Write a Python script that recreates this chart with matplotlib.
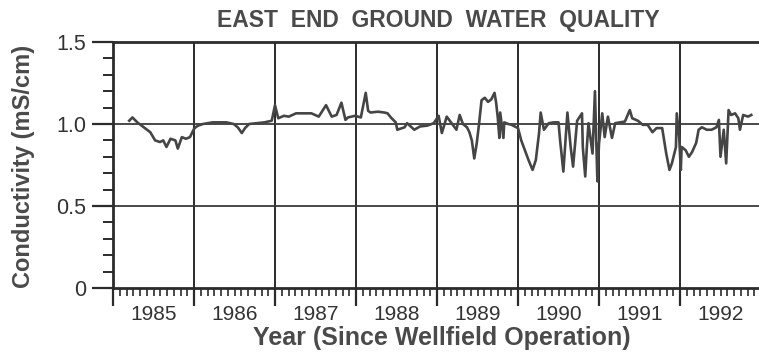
import matplotlib
matplotlib.use("Agg")
import matplotlib.pyplot as plt
from matplotlib.ticker import MultipleLocator, NullFormatter
from matplotlib.transforms import blended_transform_factory

# Sampling dates (decimal year) and measured conductivity (mS/cm)
years = [
    1985.20, 1985.24, 1985.30, 1985.38, 1985.46, 1985.52, 1985.58, 1985.62,
    1985.66, 1985.71, 1985.77, 1985.80, 1985.85, 1985.90, 1985.95,
    1986.00, 1986.02, 1986.05, 1986.11, 1986.23, 1986.40,
    1986.49, 1986.54, 1986.59, 1986.63, 1986.68, 1986.87, 1986.96, 1987.00, 1987.04,
    1987.11, 1987.17, 1987.26, 1987.35, 1987.45, 1987.54, 1987.63, 1987.70,
    1987.76, 1987.82, 1987.87, 1987.90, 1987.99,
    1988.06, 1988.12, 1988.15, 1988.18, 1988.27, 1988.35, 1988.39, 1988.43,
    1988.49, 1988.51, 1988.60, 1988.63, 1988.72, 1988.79, 1988.88, 1988.96,
    1989.02, 1989.06, 1989.12, 1989.18,
    1989.24, 1989.28, 1989.32, 1989.37, 1989.40, 1989.43, 1989.46, 1989.49,
    1989.52, 1989.55, 1989.59, 1989.63, 1989.67, 1989.71, 1989.73, 1989.75,
    1989.77, 1989.78, 1989.82, 1989.83, 1989.88, 1989.92,
    1990.00, 1990.04, 1990.07, 1990.13, 1990.18, 1990.22, 1990.26, 1990.28,
    1990.32, 1990.38, 1990.44, 1990.50,
    1990.52, 1990.56, 1990.61, 1990.65, 1990.68, 1990.73, 1990.79, 1990.80,
    1990.83, 1990.85, 1990.87, 1990.92, 1990.95, 1990.98,
    1991.00, 1991.04, 1991.07, 1991.11, 1991.16, 1991.20, 1991.26, 1991.32,
    1991.38, 1991.41, 1991.48, 1991.54, 1991.60, 1991.66,
    1991.71, 1991.78, 1991.83, 1991.87, 1991.90, 1991.95, 1991.96, 1991.99,
    1992.01, 1992.02, 1992.07, 1992.11, 1992.15, 1992.20, 1992.23, 1992.27,
    1992.33, 1992.39, 1992.45, 1992.48, 1992.50, 1992.54, 1992.57, 1992.60,
    1992.63, 1992.68, 1992.72, 1992.74, 1992.78, 1992.84, 1992.88,
]
conductivity = [
    1.02, 1.04, 1.01, 0.98, 0.95, 0.90, 0.89, 0.90,
    0.86, 0.91, 0.90, 0.85, 0.92, 0.91, 0.92,
    0.97, 0.98, 0.99, 1.00, 1.01, 1.01,
    1.00, 0.98, 0.945, 0.975, 1.00, 1.01, 1.02, 1.115, 1.035,
    1.05, 1.045, 1.065, 1.065, 1.065, 1.045, 1.115, 1.045,
    1.055, 1.13, 1.025, 1.04, 1.05,
    1.04, 1.19, 1.08, 1.07, 1.075, 1.07, 1.065, 1.04,
    1.01, 0.965, 0.98, 1.005, 0.965, 0.985, 0.99, 1.005,
    1.05, 0.945, 1.045, 1.005,
    0.965, 1.055, 1.00, 0.98, 0.95, 0.90, 0.79, 0.88,
    1.005, 1.145, 1.16, 1.135, 1.15, 1.19, 1.13, 1.04,
    0.915, 1.07, 0.915, 1.01, 1.00, 0.995,
    0.975, 0.90, 0.86, 0.78, 0.72, 0.78, 0.945, 1.07,
    0.965, 1.005, 1.01, 1.01,
    0.90, 0.71, 1.07, 0.86, 0.74, 1.02, 1.065, 0.86,
    0.68, 0.86, 1.005, 0.82, 1.20, 0.65,
    0.88, 1.065, 0.92, 1.045, 0.915, 1.005, 1.01, 1.015,
    1.085, 1.035, 1.02, 0.995, 0.995, 0.95,
    0.975, 0.975, 0.82, 0.72, 0.76, 0.86, 1.065, 0.92,
    0.72, 0.86, 0.84, 0.80, 0.83, 0.885, 0.965, 0.98,
    0.965, 0.965, 0.98, 1.025, 0.80, 0.965, 0.76, 1.085,
    1.055, 1.065, 1.035, 0.965, 1.055, 1.045, 1.055,
]

year_labels = ["1985", "1986", "1987", "1988", "1989", "1990", "1991", "1992"]
y_ticks = [0, 0.5, 1.0, 1.5]
y_tick_labels = ["0", "0.5", "1.0", "1.5"]

plt.rcParams["font.family"] = ["Liberation Sans", "DejaVu Sans"]

W, H = 759, 354
fig = plt.figure(figsize=(W / 100, H / 100), dpi=100)
fig.patch.set_facecolor("white")

x0, x1 = 1985.0, 1993.0
ax_left, ax_top, ax_bottom = 113, 42, 288
px_per_year = 81
ax = fig.add_axes([ax_left / W, 1 - ax_bottom / H,
                   (x1 - x0) * px_per_year / W, (ax_bottom - ax_top) / H])

axis_color = "#2b2b2b"
text_color = "#4a4a4a"

# Year boundaries and the 0.5 / 1.0 reference levels
for yr in range(1986, 1993):
    ax.axvline(yr, color=axis_color, lw=1.4, zorder=1)
for lvl in (0.5, 1.0):
    ax.axhline(lvl, color="#3a3a3a", lw=1.3, zorder=1)

ax.plot(years, conductivity, color="#454545", lw=1.9, zorder=3,
        solid_joinstyle="round")

ax.set_xlim(x0, x1)
ax.set_ylim(0, 1.5)

for side in ("left", "top", "bottom"):
    ax.spines[side].set_color(axis_color)
    ax.spines[side].set_linewidth(2.0)
ax.spines["right"].set_visible(False)

# x axis: year ticks with monthly minor ticks, labels centred in each year
ax.xaxis.set_major_locator(MultipleLocator(1))
ax.xaxis.set_minor_locator(MultipleLocator(1 / 12))
ax.xaxis.set_major_formatter(NullFormatter())
ax.tick_params(axis="x", which="major", direction="out", length=13, width=1.6,
               color=axis_color)
ax.tick_params(axis="x", which="minor", direction="out", length=6, width=1.2,
               color=axis_color)
trans = blended_transform_factory(ax.transData, fig.transFigure)
for i, lab in enumerate(year_labels):
    ax.text(1985.5 + i, 1 - 314 / H, lab, transform=trans, ha="center",
            va="center", fontsize=15, color="#333333")

# y axis
ax.set_yticks(y_ticks, y_tick_labels)
ax.yaxis.set_minor_locator(MultipleLocator(0.1))
ax.tick_params(axis="y", which="major", direction="out", length=15, width=1.6,
               color=axis_color, labelsize=15.5, labelcolor="#333333", pad=4)
ax.tick_params(axis="y", which="minor", direction="out", length=7, width=1.4,
               color=axis_color)

fig.text(438 / W, 1 - 20 / H, "EAST  END  GROUND  WATER  QUALITY",
         ha="center", va="center", fontsize=16.5, fontweight="bold",
         color=text_color)
fig.text(442 / W, 1 - 338 / H, "Year (Since Wellfield Operation)",
         ha="center", va="center", fontsize=18, fontweight="bold",
         color=text_color)
fig.text(24 / W, 1 - 166 / H, "Conductivity (mS/cm)", rotation=90,
         ha="center", va="center", fontsize=17, fontweight="bold",
         color=text_color)

fig.savefig("out.png", dpi=100, facecolor="white")
